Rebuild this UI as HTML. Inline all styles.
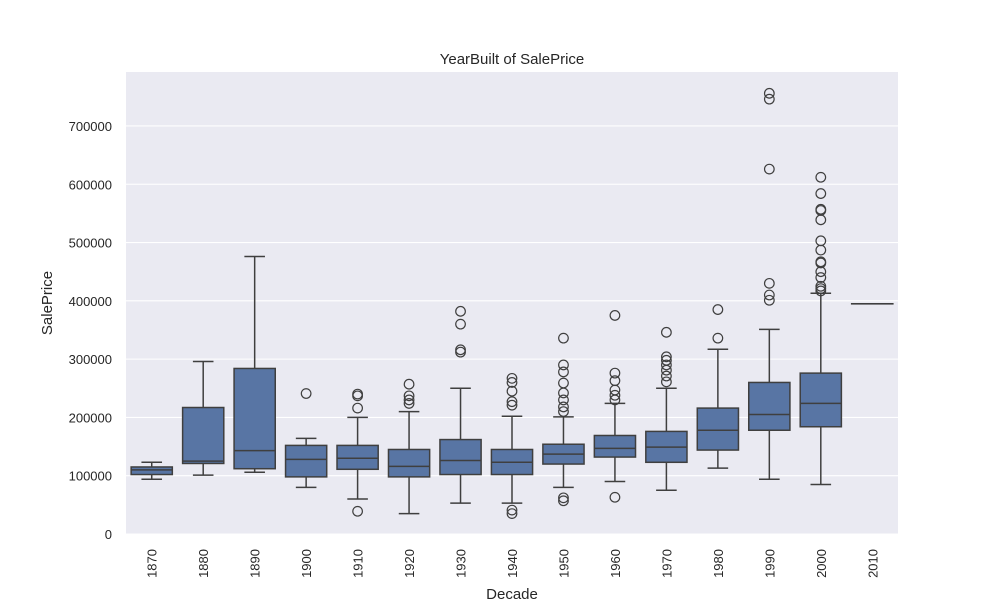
<!DOCTYPE html>
<html><head><meta charset="utf-8"><style>
body{margin:0;background:#fff}
svg text{font-family:"Liberation Sans","DejaVu Sans",sans-serif;fill:#262626}
</style></head><body>
<svg id="chart" width="1000" height="600" xmlns="http://www.w3.org/2000/svg">
<rect x="0" y="0" width="1000" height="600" fill="#fff"/>
<rect x="126" y="72" width="772" height="462" fill="#eaeaf2"/>
<g id="grid"></g><g id="boxes"></g><g id="axes"></g>
<text x="512" y="64" text-anchor="middle" font-size="15">YearBuilt of SalePrice</text>
<text x="512" y="599" text-anchor="middle" font-size="15">Decade</text>
<text transform="translate(52,303) rotate(-90)" text-anchor="middle" font-size="15">SalePrice</text>
</svg>
<script>
const categories=["1870","1880","1890","1900","1910","1920","1930","1940","1950","1960","1970","1980","1990","2000","2010"];
const whiskerLow=[94,101,106,80,60,35,53,53,80,90,75,113,94,85,395];
const q1=[102,121,112,98,111,98,102,102,120,132,123,144,178,184,395];
const median=[110,125,143,128,130,116,126,123,137,147,149,178,205,224,395];
const q3=[115,217,284,152,152,145,162,145,154,169,176,216,260,276,395];
const whiskerHigh=[123,296,476,164,200,210,250,202,201,224,250,317,351,413,395];
const outliers=[[],[],[],[241],[240,237,216,39],[257,237,230,224],[382,360,316,312],[267,260,245,227,221,41,35],
[336,290,278,259,242,230,218,210,62,57],[375,276,263,247,238,230,63],[346,304,298,290,281,271,261],[385,336],
[756,746,626,430,410,401],[612,584,557,555,539,503,487,467,465,450,440,425,421,417],[]];
const yTicks=[0,100000,200000,300000,400000,500000,600000,700000];
const NS="http://www.w3.org/2000/svg";
const L=126,R=898,T=72,B=534;
const band=(R-L)/categories.length;
const xc=i=>L+band*(i+0.5);
const y=v=>B-v/100000*58.29;
function mk(tag,attrs,parent){const e=document.createElementNS(NS,tag);for(const k in attrs)e.setAttribute(k,attrs[k]);parent.appendChild(e);return e;}
const grid=document.getElementById('grid'),boxes=document.getElementById('boxes'),axes=document.getElementById('axes');
yTicks.forEach(t=>{
  const g=mk('line',{x1:L,x2:R,y1:y(t),y2:y(t),stroke:'#fff','stroke-width':1.1},grid);
  
  
  const tx=mk('text',{x:L-14,y:y(t)+5,'text-anchor':'end','font-size':13},axes);
  tx.textContent=t;
  
  
});
const col='#3f3f3f';
categories.forEach((c,i)=>{
  const cx=xc(i),hw=band*0.4,cw=band*0.2,k=1000;
  const g=mk('g',{},boxes);
  
  
  mk('line',{x1:cx,x2:cx,y1:y(whiskerLow[i]*k),y2:y(q1[i]*k),stroke:col,'stroke-width':1.5},g);
  mk('line',{x1:cx,x2:cx,y1:y(q3[i]*k),y2:y(whiskerHigh[i]*k),stroke:col,'stroke-width':1.5},g);
  mk('line',{x1:cx-cw,x2:cx+cw,y1:y(whiskerLow[i]*k),y2:y(whiskerLow[i]*k),stroke:col,'stroke-width':1.5},g);
  mk('line',{x1:cx-cw,x2:cx+cw,y1:y(whiskerHigh[i]*k),y2:y(whiskerHigh[i]*k),stroke:col,'stroke-width':1.5},g);
  mk('rect',{x:cx-hw,y:y(q3[i]*k),width:2*hw,height:Math.max(0.1,y(q1[i]*k)-y(q3[i]*k)),fill:'#5875a4',stroke:col,'stroke-width':1.5},g);
  mk('line',{x1:cx-hw,x2:cx+hw,y1:y(median[i]*k),y2:y(median[i]*k),stroke:col,'stroke-width':1.5},g);
  outliers[i].forEach(o=>{
    const ci=mk('circle',{cx:cx,cy:y(o*k),r:4.8,fill:'none',stroke:col,'stroke-width':1.2},g);
    
    
  });
  const tx=mk('text',{transform:`translate(${cx+5},549) rotate(-90)`,'text-anchor':'end','font-size':13},axes);
  tx.textContent=c;
  
  
});
</script>
</body></html>
